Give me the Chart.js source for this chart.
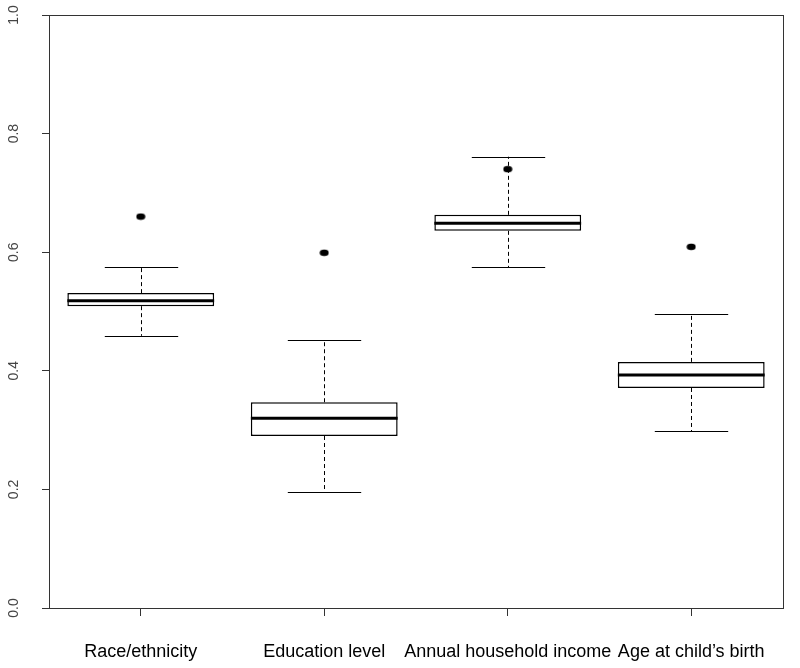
<!DOCTYPE html>
<html>
<head>
<meta charset="utf-8">
<script src="https://cdn.jsdelivr.net/npm/chart.js@4/dist/chart.umd.min.js"></script>
<style>
  html, body { margin: 0; background: #fff; }
</style>
</head>
<body>
<canvas id="chart" width="800" height="668"></canvas>
<script>
// Boxplot values
const categories = ["Race/ethnicity", "Education level", "Annual household income", "Age at child\u2019s birth"];
const lowWhisker  = [0.459, 0.196, 0.575, 0.298];
const q1          = [0.509, 0.290, 0.636, 0.371];
const median      = [0.518, 0.320, 0.649, 0.393];
const q3          = [0.531, 0.347, 0.663, 0.415];
const highWhisker = [0.575, 0.452, 0.761, 0.496];
const outliers    = [0.660, 0.599, 0.740, 0.609];
const yTicks      = [0.0, 0.2, 0.4, 0.6, 0.8, 1.0];

const FONT = "'Liberation Sans', Arial, sans-serif";

// R draws the outlier dots slightly flattened
const dot = document.createElement("canvas");
dot.width = 10; dot.height = 8;
(() => {
  const c = dot.getContext("2d");
  c.fillStyle = "#000";
  c.beginPath();
  c.ellipse(5, 4, 4.5, 3.3, 0, 0, Math.PI * 2);
  c.fill();
})();

// whiskers (dashed) + caps behind the boxes, medians on top, frame around plot
const boxParts = {
  id: "boxParts",
  beforeDatasetsDraw(chart) {
    const { ctx, scales: { x, y } } = chart;
    const bars = chart.getDatasetMeta(1).data;
    ctx.save();
    ctx.strokeStyle = "#000";
    ctx.lineWidth = 1;
    categories.forEach((c, i) => {
      const cx = Math.round(x.getPixelForValue(i)) + 0.5;
      const half = bars[i].width / 4;
      ctx.setLineDash([4, 3]);
      ctx.beginPath();
      ctx.moveTo(cx, y.getPixelForValue(q3[i]));
      ctx.lineTo(cx, y.getPixelForValue(highWhisker[i]));
      ctx.moveTo(cx, y.getPixelForValue(q1[i]));
      ctx.lineTo(cx, y.getPixelForValue(lowWhisker[i]));
      ctx.stroke();
      ctx.setLineDash([]);
      ctx.beginPath();
      [highWhisker[i], lowWhisker[i]].forEach(v => {
        const py = Math.round(y.getPixelForValue(v)) + 0.5;
        ctx.moveTo(cx - half, py);
        ctx.lineTo(cx + half, py);
      });
      ctx.stroke();
    });
    ctx.restore();
  },
  afterDatasetsDraw(chart) {
    const { ctx, scales: { x, y } } = chart;
    const bars = chart.getDatasetMeta(1).data;
    ctx.save();
    ctx.strokeStyle = "#000";
    ctx.lineWidth = 3;
    categories.forEach((c, i) => {
      const cx = x.getPixelForValue(i);
      const half = bars[i].width / 2;
      const py = y.getPixelForValue(median[i]);
      ctx.beginPath();
      ctx.moveTo(cx - half, py);
      ctx.lineTo(cx + half, py);
      ctx.stroke();
    });
    const a = chart.chartArea;
    ctx.lineWidth = 1;
    ctx.strokeStyle = "#333";
    ctx.strokeRect(Math.round(a.left) + 0.5, Math.round(a.top) + 0.5,
                   Math.round(a.right - a.left), Math.round(a.bottom - a.top));
    ctx.restore();
  }
};

new Chart(document.getElementById("chart"), {
  type: "bar",
  data: {
    labels: categories,
    datasets: [
      {
        type: "line",
        data: outliers,
        showLine: false,
        pointStyle: dot,
        order: 0
      },
      {
        data: q1.map((v, i) => [v, q3[i]]),
        backgroundColor: "#fff",
        borderColor: "#000",
        borderWidth: 1.5,
        borderSkipped: false,
        categoryPercentage: 1,
        barPercentage: 0.8,
        order: 1
      }
    ]
  },
  options: {
    responsive: false,
    animation: false,
    layout: { padding: { top: 15, right: 17, left: 0, bottom: 0 } },
    plugins: {
      legend: { display: false },
      tooltip: { enabled: false }
    },
    scales: {
      x: {
        grid: { display: true, drawOnChartArea: false, offset: false, tickLength: 8, color: "#333" },
        border: { display: true, color: "#333" },
        ticks: { color: "#000", font: { family: FONT, size: 18 }, padding: 25, autoSkip: false, maxRotation: 0, minRotation: 0 },
        afterFit: s => { s.height = 60; s.paddingLeft = 0; s.paddingRight = 0; }
      },
      y: {
        min: 0,
        max: 1,
        afterBuildTicks: s => { s.ticks = yTicks.map(v => ({ value: v })); },
        grid: { display: true, drawOnChartArea: false, tickLength: 7, color: "#333" },
        border: { display: true, color: "#333" },
        ticks: {
          color: "#444",
          font: { family: FONT, size: 14 },
          minRotation: 90,
          maxRotation: 90,
          crossAlign: "center",
          padding: 18,
          callback: v => v.toFixed(1)
        },
        afterFit: s => { s.width = 49; s.paddingTop = 0; s.paddingBottom = 0; }
      }
    }
  },
  plugins: [boxParts]
});
</script>
</body>
</html>
